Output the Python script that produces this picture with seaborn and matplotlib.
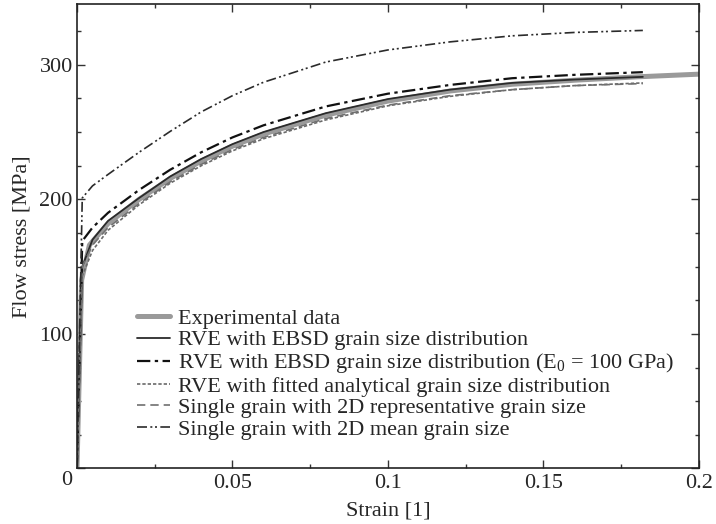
import numpy as np
import pandas as pd
import matplotlib
matplotlib.use("Agg")
import matplotlib.pyplot as plt
from matplotlib.ticker import MultipleLocator, FixedLocator
import seaborn as sns

# ---- data ----
strain_sim = [0.0, 0.0017, 0.005, 0.01, 0.02, 0.03, 0.04, 0.05, 0.06, 0.08, 0.10, 0.12, 0.14, 0.16, 0.182]
rve_ebsd   = [0.0, 150, 170, 184, 201, 217, 230, 241, 250, 264, 274.5, 281.5, 286.5, 289, 291]
rve_e0     = [0.0, 169, 179, 190, 207, 222, 235, 246, 255, 269, 278.5, 285, 290, 292.5, 294.5]
rve_fitted = [0.0, 143, 162, 177, 196, 212, 225, 236, 245, 259, 269.5, 276.5, 281.5, 284.5, 286.5]
sg_repr    = [0.0, 150, 166, 179, 197, 213, 226, 237, 246, 260, 270, 277, 281.5, 284.5, 286]
sg_mean    = [0.0, 201, 210, 218.5, 235, 250.5, 265, 277, 287, 302, 311, 317, 321.5, 324, 325.5]

strain_exp = [0.0, 0.0015, 0.004, 0.01, 0.02, 0.03, 0.04, 0.05, 0.06, 0.08, 0.10, 0.12, 0.14, 0.16, 0.18, 0.20]
exp_data   = [0.0, 140, 166, 182, 200, 215.5, 228.5, 239.5, 248.5, 262.5, 273, 280.5, 285.5, 288.5, 291, 293]

labels = [
    "Experimental data",
    "RVE with EBSD grain size distribution",
    r"RVE with EBSD grain size distribution (E$_0$ = 100 GPa)",
    "RVE with fitted analytical grain size distribution",
    "Single grain with 2D representative grain size",
    "Single grain with 2D mean grain size",
]

xticks = [0, 0.05, 0.1, 0.15, 0.2]
xticklabels = ["", "0.05", "0.1", "0.15", "0.2"]
yticks = [0, 100, 200, 300]
yticklabels = ["", "100", "200", "300"]
corner_label = "0"

# ---- style ----
sns.set_style("ticks")
plt.rcParams["font.family"] = ["Liberation Serif", "DejaVu Serif"]
plt.rcParams["mathtext.fontset"] = "custom"
plt.rcParams["mathtext.rm"] = "Liberation Serif"
plt.rcParams["mathtext.it"] = "Liberation Serif:italic"
FS = 16

fig = plt.figure(figsize=(7.16, 5.24), dpi=100)
ax = fig.add_axes([0.1075, 0.106, 0.8685, 0.886])

specs = [
    (strain_exp, exp_data,   dict(color="#9a9a9a", lw=3.6, ls="-")),
    (strain_sim, rve_ebsd,   dict(color="#2b2b2b", lw=1.3, ls="-")),
    (strain_sim, rve_e0,     dict(color="#111111", lw=1.6, ls=(0, (6, 2, 1.5, 2)))),
    (strain_sim, rve_fitted, dict(color="#6a6a6a", lw=1.2, ls=(0, (2, 1.2)))),
    (strain_sim, sg_repr,    dict(color="#707070", lw=1.2, ls=(0, (5, 3)))),
    (strain_sim, sg_mean,    dict(color="#2b2b2b", lw=1.2, ls=(0, (6, 2, 1.2, 1.6, 1.2, 2)))),
]

for (x, y, kw), lab in zip(specs, labels):
    df = pd.DataFrame({"strain": x, "stress": y})
    sns.lineplot(data=df, x="strain", y="stress", ax=ax, label=lab,
                 color=kw["color"], linewidth=kw["lw"], linestyle=kw["ls"],
                 estimator=None, sort=False)

ax.set_xlim(0, 0.2)
ax.set_ylim(0, 345)
ax.xaxis.set_major_locator(FixedLocator(xticks))
ax.set_xticklabels(xticklabels)
ax.xaxis.set_minor_locator(MultipleLocator(0.025))
ax.yaxis.set_major_locator(FixedLocator(yticks))
ax.set_yticklabels(yticklabels)
ax.yaxis.set_minor_locator(MultipleLocator(25))
ax.tick_params(which="both", direction="in", top=True, right=True, width=1.0,
               color="#333333", labelsize=FS)
ax.tick_params(which="major", length=6)
ax.tick_params(axis="x", which="major", pad=4)
ax.tick_params(axis="y", which="major", pad=3)
ax.tick_params(which="minor", length=3)
for s in ax.spines.values():
    s.set_linewidth(1.2)
    s.set_color("#222222")

ax.annotate(corner_label, xy=(0, 0), xycoords="axes fraction",
            xytext=(-7.5, -9), textcoords="offset points",
            ha="center", va="center", fontsize=FS)

ax.set_xlabel("Strain [1]", fontsize=FS, labelpad=6)
ax.set_ylabel("Flow stress [MPa]", fontsize=FS, labelpad=6)

leg = ax.legend(loc="lower left", bbox_to_anchor=(0.0965, 0.062), frameon=False,
                handlelength=1.5, handletextpad=0.36, labelspacing=0.04,
                borderaxespad=0, borderpad=0, fontsize=FS)

fig.savefig("out.png", dpi=100)
